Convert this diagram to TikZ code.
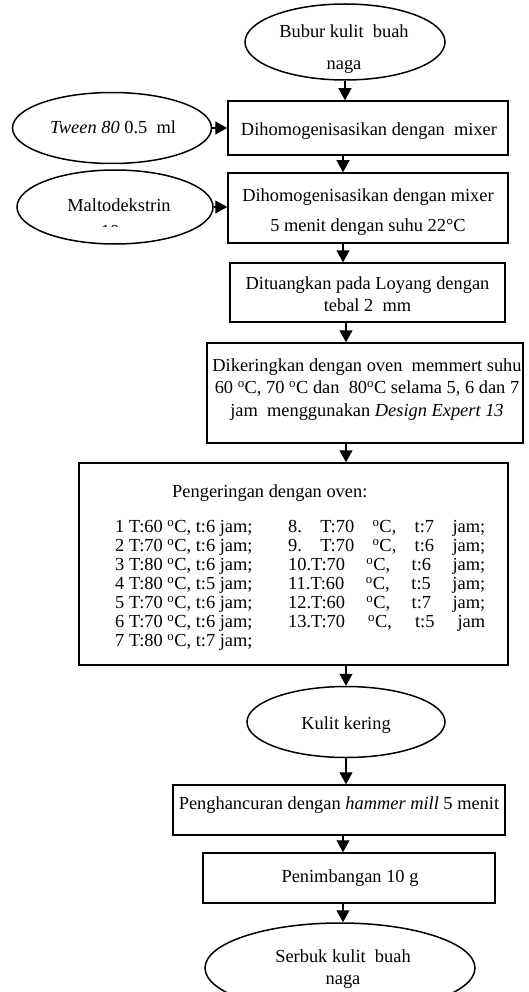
\documentclass[tikz,border=0pt]{standalone}
\usepackage{fontspec}
\setmainfont{Liberation Serif}
\usetikzlibrary{shapes.geometric,arrows.meta}
\newcommand\degsup{\textsuperscript{o}}
\tikzset{
  box/.style={draw, line width=1.5pt, rectangle, inner sep=0pt, align=center},
  oval/.style={draw, line width=1.5pt, ellipse, inner sep=0pt},
  txt/.style={inner sep=0pt, align=center},
  arr/.style={line width=1.2pt, -{Triangle[length=12pt,width=13pt]}},
}
\begin{document}
\begin{tikzpicture}[x=1pt,y=-1pt,font=\fontsize{18.4}{22.5}\selectfont]
\useasboundingbox (0,0) rectangle (528,992);

% ovals
\node[oval, minimum width=200pt, minimum height=76pt] (e1) at (345,42) {};
\node[txt, font=\fontsize{18.4}{32}\selectfont] (e1t) at (344,49) {Bubur kulit\ \ buah\\naga};

\node[oval, minimum width=199pt, minimum height=71pt] (tw) at (112,128) {};
\node[txt] (twt) at (113,127) {\textit{Tween 80} 0.5\ \ ml};

\node[oval, minimum width=196pt, minimum height=74pt] (ma) at (115,207) {};
\node[txt, anchor=base] (mat) at (119,212) {Maltodekstrin};
\begin{scope}
  \clip (20,150) rectangle (210,226.5);
  \node[txt, anchor=base] (mat2) at (117,237) {10 g};
\end{scope}

% boxes
\node[box, minimum width=280pt, minimum height=54pt] (b1) at (368,128) {};
\node[txt] (b1t) at (369,131) {Dihomogenisasikan dengan\ \ mixer};

\node[box, minimum width=280pt, minimum height=70pt] (b2) at (368,208) {};
\node[txt, font=\fontsize{18.4}{30}\selectfont] (b2t) at (368,212) {Dihomogenisasikan dengan mixer\\5 menit dengan suhu 22°C};

\node[box, minimum width=275pt, minimum height=59pt] (b3) at (367.5,292.5) {};
\node[txt] (b3t) at (367.5,294) {Dituangkan pada Loyang dengan\\tebal 2\ \ mm};

\node[box, minimum width=316pt, minimum height=100pt] (b4) at (365,393) {};
\node[txt] (b4t) at (367,389.5) {Dikeringkan dengan oven\ \ memmert suhu\\60 \degsup C, 70 \degsup C dan\ \ 80\degsup C selama 5, 6 dan 7\\jam\ \ menggunakan \textit{Design Expert 13}};

\node[box, minimum width=429pt, minimum height=202pt] (b5) at (293.5,564) {};
\node[txt, anchor=west] (b5h) at (172,493) {Pengeringan dengan oven:};
\foreach \i/\t in {1/{1 T:60 \degsup C, t:6 jam;},2/{2 T:70 \degsup C, t:6 jam;},3/{3 T:80 \degsup C, t:6 jam;},4/{4 T:80 \degsup C, t:5 jam;},5/{5 T:70 \degsup C, t:6 jam;},6/{6 T:70 \degsup C, t:6 jam;},7/{7 T:80 \degsup C, t:7 jam;}}
  \node[txt, anchor=base west] (L\i) at (115,{532.5+19*(\i-1)}) {\t};
\foreach \i/\t in {1/{8.\ T:70 \degsup C, t:7 jam;},2/{9.\ T:70 \degsup C, t:6 jam;},3/{10.T:70 \degsup C, t:6 jam;},4/{11.T:60 \degsup C, t:5 jam;},5/{12.T:60 \degsup C, t:7 jam;},6/{13.T:70 \degsup C, t:5 jam}}
  \node[txt, anchor=base west] (R\i) at (288,{532.5+19*(\i-1)}) {\makebox[197pt][s]{\t}};

\node[oval, minimum width=198pt, minimum height=71pt] (kk) at (346,722) {};
\node[txt] (kkt) at (346,725) {Kulit kering};

\node[box, minimum width=332pt, minimum height=50pt] (b6) at (339,810) {};
\node[txt] (b6t) at (339,805) {Penghancuran dengan \textit{hammer mill} 5 menit};

\node[box, minimum width=292pt, minimum height=50pt] (b7) at (349,878) {};
\node[txt] (b7t) at (350,878) {Penimbangan 10 g};

\node[oval, minimum width=270pt, minimum height=90pt] (e2) at (340,968) {};
\node[txt] (e2t) at (343,969) {Serbuk kulit\ \ buah\\naga};

% arrows
\coordinate (c1) at (343,0);
\coordinate (c2) at (346,0);
\coordinate (c3) at (343,0);
\draw[arr] (e1.south) -- (b1.north -| e1.south);
\draw[arr] (tw.east) -- (b1.west |- tw.east);
\draw[arr] (b1.south -| c1) -- (b2.north -| c1);
\draw[arr] (ma.east) -- (b2.west |- ma.east);
\draw[arr] (b2.south -| c1) -- (b3.north -| c1);
\draw[arr] (b3.south -| c2) -- (b4.north -| c2);
\draw[arr] (b4.south -| c2) -- (b5.north -| c2);
\draw[arr] (b5.south -| kk.north) -- (kk.north);
\draw[arr] (kk.south) -- (b6.north -| kk.south);
\draw[arr] (b6.south -| c3) -- (b7.north -| c3);
\draw[arr] (b7.south -| c3) -- (e2.north -| c3);
\end{tikzpicture}
\end{document}
